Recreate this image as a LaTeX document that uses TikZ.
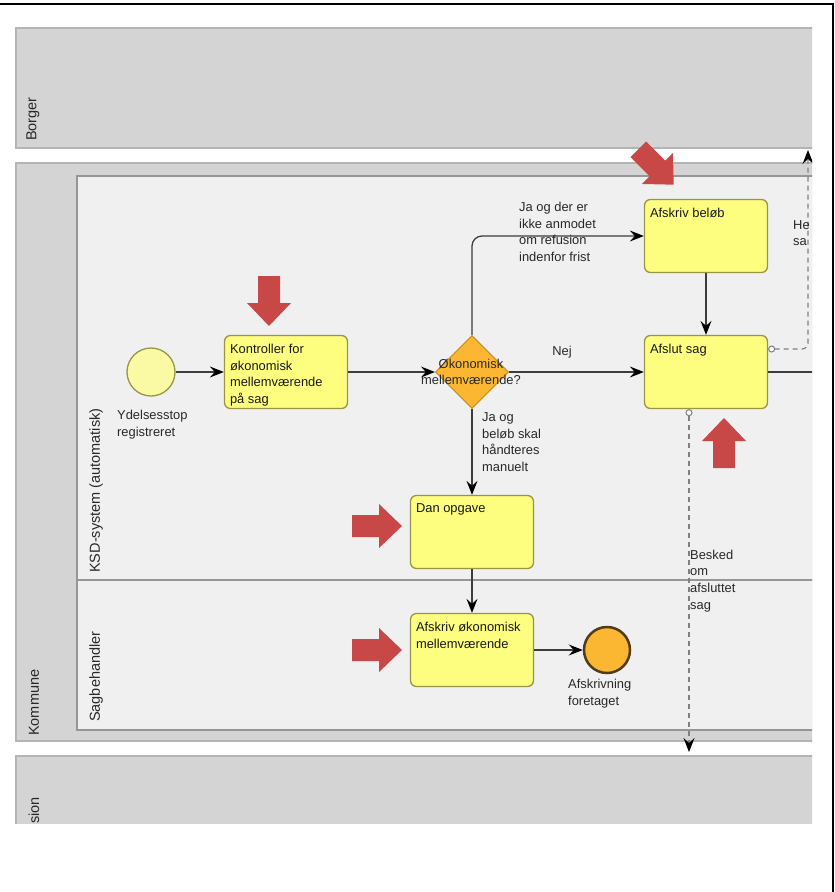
\documentclass[tikz,border=0pt]{standalone}
\usepackage{fontspec}
\setmainfont{Liberation Sans}
\usetikzlibrary{arrows.meta,shapes.geometric}

\definecolor{poolgray}{RGB}{212,212,212}
\definecolor{poolline}{RGB}{180,180,180}
\definecolor{lanegray}{RGB}{240,240,240}
\definecolor{laneline}{RGB}{150,150,150}
\definecolor{taskfill}{RGB}{253,253,128}
\definecolor{taskline}{RGB}{150,150,70}
\definecolor{startfill}{RGB}{250,250,165}
\definecolor{gwfill}{RGB}{251,183,49}
\definecolor{gwline}{RGB}{205,150,40}
\definecolor{endline}{RGB}{80,60,25}
\definecolor{markred}{RGB}{200,72,72}
\definecolor{flowgray}{RGB}{60,60,60}
\definecolor{txt}{RGB}{40,40,40}

\begin{document}
\begin{tikzpicture}[x=1pt,y=-1pt,
  task/.style={draw=taskline,line width=1.3pt,fill=taskfill,rounded corners=6pt,
    minimum width=123pt,minimum height=73pt,inner sep=0pt},
  tasktext/.style={anchor=north west,align=left,inner sep=0pt,
    font=\fontsize{12.9}{16.7}\selectfont,text=black!90},
  lbl/.style={align=left,inner sep=0pt,font=\fontsize{12.9}{16.7}\selectfont,text=txt},
  lanelbl/.style={rotate=90,anchor=west,inner sep=0pt,font=\fontsize{14.5}{16}\selectfont,text=txt},
  flow/.style={draw=flowgray,line width=1.3pt,
    -{Stealth[length=14pt,width=11pt,inset=5pt,color=black]}},
  msg/.style={draw=gray,line width=1.2pt,dash pattern=on 5pt off 4pt,
    {Circle[length=7pt,fill=white,color=gray,line width=1pt]}-{Stealth[length=14pt,width=11pt,inset=5pt,color=black]}}
]

\useasboundingbox (0,0) rectangle (835,892);
\fill[white] (0,0) rectangle (835,892);

\begin{scope}
\clip (0,0) rectangle (812,823);

% pools and lanes
\begin{scope}[line width=1.5pt]
\filldraw[fill=poolgray,draw=poolline] (16,28) rectangle (830,148);
\filldraw[fill=poolgray,draw=poolline] (16,163) rectangle (830,741);
\filldraw[fill=lanegray,draw=laneline] (77,176) rectangle (830,580);
\filldraw[fill=lanegray,draw=laneline] (77,580) rectangle (830,730);
\filldraw[fill=poolgray,draw=poolline] (16,756) rectangle (830,900);
\end{scope}

\node[lanelbl] at (33,141) {Borger};
\node[lanelbl] at (34,736) {Kommune};
\node[lanelbl] at (96,573) {KSD-system (automatisk)};
\node[lanelbl] at (96,722) {Sagbehandler};
\node[lanelbl,anchor=east] at (34,797) {sion};

% nodes
\node[circle,draw=taskline,line width=1.3pt,fill=startfill,minimum size=48pt,inner sep=0pt] (start) at (151,372) {};
\node[task] (kontrol) at (286,372) {};
\node[diamond,draw=gwline,line width=1.2pt,fill=gwfill,minimum width=73pt,minimum height=73pt,inner sep=0pt] (gw) at (472,372) {};
\node[task] (afskrivbelob) at (706,236) {};
\node[task] (afslut) at (706,372) {};
\node[task] (danopg) at (472,532) {};
\node[task] (afskrivok) at (472,650) {};
\node[circle,draw=endline,line width=2.5pt,fill=gwfill,minimum size=46pt,inner sep=0pt] (slut) at (607,650) {};
\coordinate (ud) at (820,372);
\coordinate (borgerbund) at (808,150);
\coordinate (naeste) at (689,752);

\node[tasktext] at ([xshift=6pt,yshift=-9pt]kontrol.north west) {Kontroller for\\økonomisk\\mellemværende\\på sag};
\node[tasktext] at ([xshift=6pt,yshift=-9pt]afskrivbelob.north west) {Afskriv beløb};
\node[tasktext] at ([xshift=6pt,yshift=-9pt]afslut.north west) {Afslut sag};
\node[tasktext] at ([xshift=6pt,yshift=-9pt]danopg.north west) {Dan opgave};
\node[tasktext] at ([xshift=6pt,yshift=-9pt]afskrivok.north west) {Afskriv økonomisk\\mellemværende};

% flows
\draw[flow] (start) -- (kontrol);
\draw[flow] (kontrol) -- (gw);
\draw[flow] (gw) -- (afslut);
\draw[flow,rounded corners=10pt] (gw.north) |- (afskrivbelob.west);
\draw[flow] (afskrivbelob) -- (afslut);
\draw[flow] (gw) -- (danopg);
\draw[flow] (danopg) -- (afskrivok);
\draw[flow] (afskrivok) -- (slut);
\draw[draw=flowgray,line width=1.3pt] (afslut.east) -- (ud);
\draw[msg,rounded corners=6pt] ([yshift=23pt]afslut.east) -| (borgerbund);
\draw[msg] ([xshift=-17pt]afslut.south) -- (naeste);

\node[lbl,align=center] (gwtekst) at (471,372) {Økonomisk\\mellemværende?};
\node[lbl] (nej) at (562,352) {Nej};
\node[lbl,anchor=west] (jaogder) at (519,232) {Ja og der er\\ikke anmodet\\om refusion\\indenfor frist};
\node[lbl,anchor=west] (jaogbelob) at (482,442) {Ja og\\beløb skal\\håndteres\\manuelt};
\node[lbl,anchor=west] (besked) at (690,581) {Besked\\om\\afsluttet\\sag};
\node[lbl,anchor=west] (hensag) at (793,233) {He\\sa};
\node[lbl,anchor=west] (startlbl) at (117,425) {Ydelsesstop\\registreret};
\node[lbl,anchor=west] (slutlbl) at (568,694) {Afskrivning\\foretaget};

% red markers
\foreach \px/\py/\ang in {269/301/-90, 656/167/-45, 724/443/90, 377/526/0, 377/650/0}
  \fill[markred,shift={(\px,\py)},rotate=\ang] (-25,-11) -- (2,-11) -- (2,-22) -- (25,0) -- (2,22) -- (2,11) -- (-25,11) -- cycle;

\end{scope}

\draw[line width=2.5pt] (0,4) -- (833,4) -- (833,892);

\end{tikzpicture}
\end{document}
